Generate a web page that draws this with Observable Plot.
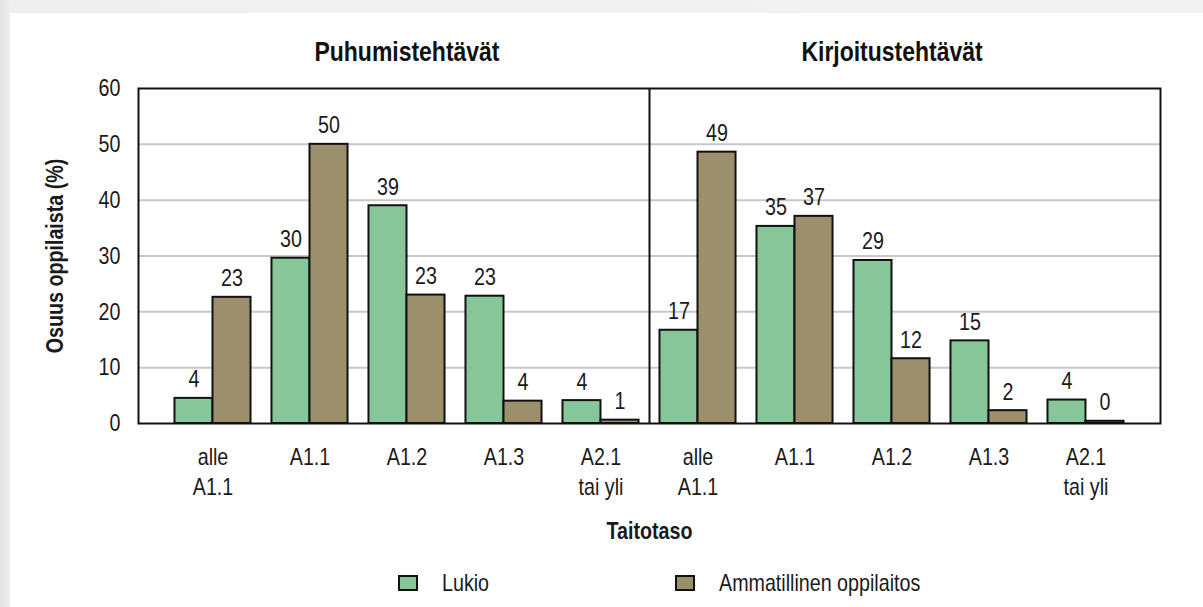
<!DOCTYPE html>
<html>
<head>
<meta charset="utf-8">
<script src="https://cdn.jsdelivr.net/npm/d3@7"></script>
<script src="https://cdn.jsdelivr.net/npm/@observablehq/plot@0.6"></script>
<style>
  html, body { margin: 0; padding: 0; }
  body { width: 1203px; height: 607px; background: linear-gradient(to right, #e2e2e2 0px, #efefef 10px, #f3f3f3 100%); position: relative; overflow: hidden;
    font-family: "Liberation Sans", Arial, sans-serif; color: #1a1a1a; }
  #card { position: absolute; left: 10px; top: 13px; width: 1193px; height: 594px; background: #fff; }
  #chart { position: absolute; left: 0; top: 0; }
  .lg { position: absolute; top: 556px; display: flex; align-items: center; font-size: 24px; }
  .sw { width: 16px; height: 12px; border: 2px solid #111; margin-right: 24px; flex: none; }
  .lt { display: inline-block; transform: scaleX(0.82); transform-origin: left center; white-space: nowrap; }
</style>
</head>
<body>
<div id="card">
  <div id="chart"></div>
  <div id="legend"></div>
</div>
<script>
// ---- data ----
const tasks = ["Puhumistehtävät", "Kirjoitustehtävät"];
const levels = ["alle\nA1.1", "A1.1", "A1.2", "A1.3", "A2.1\ntai yli"];
const series = ["Lukio", "Ammatillinen oppilaitos"];
const colors = ["#86c698", "#9c8f6c"];
// bar heights (%)
const lukioPuhu = [4.5, 29.6, 39.0, 22.8, 4.1];
const ammPuhu   = [22.6, 50.0, 23.0, 4.0, 0.6];
const lukioKirj = [16.7, 35.3, 29.2, 14.8, 4.2];
const ammKirj   = [48.6, 37.1, 11.6, 2.3, 0.4];
// printed value labels
const lukioPuhuLbl = [4, 30, 39, 23, 4];
const ammPuhuLbl   = [23, 50, 23, 4, 1];
const lukioKirjLbl = [17, 35, 29, 15, 4];
const ammKirjLbl   = [49, 37, 12, 2, 0];
const yTicks = [0, 10, 20, 30, 40, 50, 60];

// ---- table ----
const valueSets = [[lukioPuhu, ammPuhu], [lukioKirj, ammKirj]];
const labelSets = [[lukioPuhuLbl, ammPuhuLbl], [lukioKirjLbl, ammKirjLbl]];
const keys = [];
tasks.forEach((t, ti) => levels.forEach((l, li) => keys.push(`${ti}|${li}`)));
const rows = [];
tasks.forEach((t, ti) => series.forEach((s, si) => levels.forEach((l, li) => {
  rows.push({task: t, level: l, key: `${ti}|${li}`, series: s,
             value: valueSets[ti][si][li], label: labelSets[ti][si][li]});
})));

// ---- layout ----
const W = 1193, H = 542, ML = 128, MR = 43, MT = 75, MB = 132;
const PI = 0.216, PO = 0.376;
const step = (W - ML - MR) / (keys.length - PI + 2 * PO);
const half = step * (1 - PI) / 2;
const FS = 24;
const NARROW = 0.82;

const chart = Plot.plot({
  width: W, height: H,
  marginLeft: ML, marginRight: MR, marginTop: MT, marginBottom: MB,
  style: {fontFamily: '"Liberation Sans", Arial, sans-serif', fontSize: FS + "px", color: "#1a1a1a", background: "transparent", overflow: "visible"},
  x: {domain: keys, paddingInner: PI, paddingOuter: PO, round: false},
  y: {domain: [0, 60]},
  marks: [
    Plot.ruleY(yTicks.filter(d => d > 0 && d < 60), {stroke: "#c8c8c8", strokeWidth: 2}),
    Plot.barY(rows.filter(d => d.series === series[0]), {x: "key", y: "value", fill: colors[0], stroke: "#111", strokeWidth: 2, insetRight: half}),
    Plot.barY(rows.filter(d => d.series === series[1]), {x: "key", y: "value", fill: colors[1], stroke: "#111", strokeWidth: 2, insetLeft: half}),
    Plot.text(rows.filter(d => d.series === series[0]), {x: "key", y: "value", text: "label", dx: -half / 2, dy: -11, lineAnchor: "bottom", fontSize: FS, fill: "#1a1a1a"}),
    Plot.text(rows.filter(d => d.series === series[1]), {x: "key", y: "value", text: "label", dx: half / 2, dy: -11, lineAnchor: "bottom", fontSize: FS, fill: "#1a1a1a"}),
    Plot.ruleX([keys[levels.length]], {dx: -step / 2, stroke: "#111", strokeWidth: 2}),
    Plot.frame({stroke: "#111", strokeWidth: 2}),
    Plot.axisY({ticks: yTicks, tickSize: 0, tickPadding: 18, fontSize: FS,
      label: "Osuus oppilaista (%)", labelAnchor: "center", labelOffset: 93, labelArrow: "none"}),
    Plot.axisX({tickSize: 0, tickPadding: 20, fontSize: FS, lineHeight: 1.25,
      tickFormat: k => levels[+k.split("|")[1]],
      label: "Taitotaso", labelAnchor: "center", labelOffset: 115, labelArrow: "none"}),
    Plot.text(tasks, {x: (d, i) => `${i}|2`, frameAnchor: "top", dy: -36, lineAnchor: "middle", fontWeight: "bold", fontSize: 28, fill: "#111"})
  ]
});
chart.querySelectorAll("[aria-label='y-axis label'], [aria-label='x-axis label']").forEach(g => { g.setAttribute("font-weight", "bold"); g.setAttribute("font-size", "24"); });
document.getElementById("chart").appendChild(chart);

// narrow the glyphs (Arial Narrow look) with textLength
chart.querySelectorAll("text").forEach(t => {
  const spans = t.querySelectorAll("tspan");
  const targets = spans.length ? Array.from(spans) : [t];
  targets.forEach(el => {
    const len = el.getComputedTextLength();
    if (len > 0) {
      el.setAttribute("textLength", (len * NARROW).toFixed(2));
      el.setAttribute("lengthAdjust", "spacingAndGlyphs");
    }
  });
});

// ---- legend ----
const legendX = [388, 665];
const lg = document.getElementById("legend");
series.forEach((s, i) => {
  const item = document.createElement("div");
  item.className = "lg";
  item.style.left = legendX[i] + "px";
  item.innerHTML = `<span class="sw" style="background:${colors[i]}"></span><span class="lt">${s}</span>`;
  lg.appendChild(item);
});
</script>
</body>
</html>
